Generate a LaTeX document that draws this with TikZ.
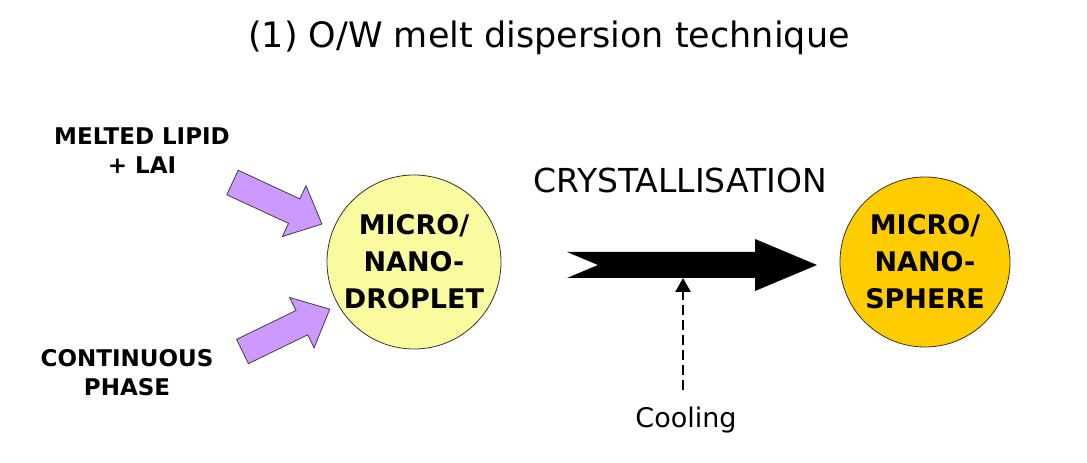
\documentclass[tikz,border=0pt]{standalone}
\usepackage{fontspec}
\setmainfont{DejaVu Sans}
\usetikzlibrary{arrows.meta}
\definecolor{lightyel}{HTML}{FAFA9E}
\definecolor{gold}{HTML}{FFCC00}
\definecolor{lilac}{HTML}{CC99FF}
\tikzset{
  bubble/.style={circle, draw=black!80, line width=0.8pt, minimum size=174pt, inner sep=0pt, align=center,
    font=\fontsize{27}{37}\selectfont\bfseries},
  blockarrow/.style={fill=lilac, draw=black!75, line width=0.8pt, line join=miter},
  lbl/.style={align=center, font=\fontsize{23}{29}\selectfont\bfseries},
}
\begin{document}
\begin{tikzpicture}[x=1pt,y=1pt]
\useasboundingbox (0,0) rectangle (1087,463);
\fill[white] (0,0) rectangle (1087,463);
% title
\node[font=\fontsize{35}{40}\selectfont] (title) at (549,425) {(1) O/W melt dispersion technique};
% bubbles
\node[bubble, fill=lightyel] (drop) at (414,201) {MICRO/\\NANO-\\DROPLET};
\node[bubble, fill=gold, minimum size=170pt] (sphere) at (925,201) {MICRO/\\NANO-\\SPHERE};
% labels
\node[lbl] (lipid) at (142,312) {MELTED LIPID\\+ LAI};
\node[lbl] (cont) at (127,90) {CONTINUOUS\\PHASE};
\node[font=\fontsize{33}{36}\selectfont] (cryst) at (680,283) {CRYSTALLISATION};
\node[font=\fontsize{27}{30}\selectfont] (cool) at (686,43) {Cooling};
% purple block arrows
\coordinate (t1) at (232.5,280.5);
\coordinate (t2) at (242.5,111.5);
\draw[blockarrow, shift={(t1)}, rotate=-24.9]
  (0,-13.5) -- (68,-13.5) -- (68,-28) -- (98.6,0) -- (68,28) -- (68,13.5) -- (0,13.5) -- cycle;
\draw[blockarrow, shift={(t2)}, rotate=25.9]
  (0,-13.5) -- (66,-13.5) -- (66,-28) -- (97,0) -- (66,28) -- (66,13.5) -- (0,13.5) -- cycle;
% black arrow
\fill[black] (567,211) -- (755,211) -- (755,224) -- (817,198) -- (755,172) -- (755,185) -- (567,185) -- (598,198) -- cycle;
\coordinate (bshaft) at (683,185);
\coordinate (cstart) at (683,73);
% dashed cooling arrow
\draw[dash pattern=on 10pt off 5pt, line width=2.6pt, -{Triangle[length=14pt,width=15pt]}]
  (cstart) -- (bshaft);
\end{tikzpicture}
\end{document}
